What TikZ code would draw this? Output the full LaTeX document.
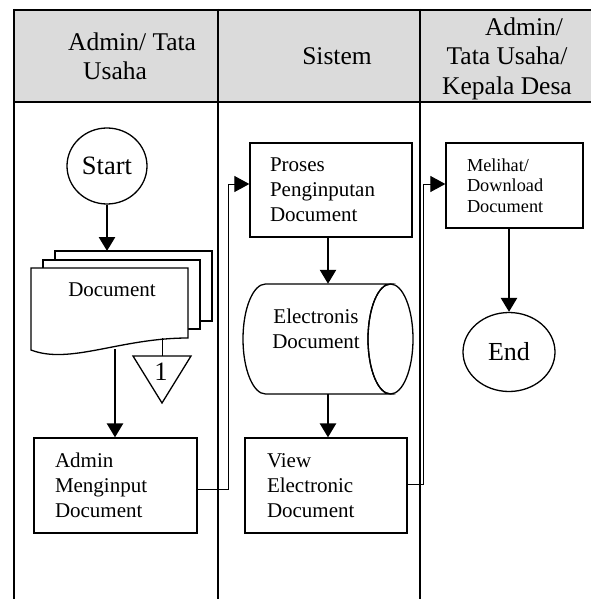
\documentclass[tikz,border=0pt]{standalone}
\usepackage{fontspec}
\setmainfont{Liberation Serif}
\usetikzlibrary{arrows.meta,shapes.geometric,calc}
\begin{document}
\begin{tikzpicture}[x=1pt,y=-1pt,
  box/.style={draw,line width=1.3pt,fill=white,rectangle,align=left,inner ysep=0pt},
  bodyfont/.style={font=\fontsize{21}{25}\selectfont},
  smallfont/.style={font=\fontsize{18.3}{20.5}\selectfont},
  hdr/.style={font=\fontsize{25.5}{29.5}\selectfont,inner sep=0pt},
  thickarrow/.style={line width=2.6pt,-{Triangle[length=14pt,width=16pt]}},
  conn/.style={line width=1pt,-{Triangle[length=15pt,width=16pt]}},
  lane/.style={line width=2pt},
  sheet/.style={draw,line width=1.3pt,fill=white},
]
\useasboundingbox (0,0) rectangle (591,599);
% header
\fill[gray!28] (14,10) rectangle (591,102);
\draw[lane] (14,10) -- (591,10);
\draw[lane] (14,102) -- (591,102);
\draw[lane] (14,9) -- (14,599);
\draw[lane] (217.5,9) -- (217.5,599);
\draw[lane] (419.5,9) -- (419.5,599);
\node[hdr,align=left,anchor=west] (h1) at (68,56.3) {Admin/ Tata\\\hspace*{15pt}Usaha};
\node[hdr,anchor=base] (h2) at (337,65) {Sistem};
\node[hdr,align=center] (h3) at (507,58.6) {\hspace*{34pt}Admin/\\Tata Usaha/\\Kepala Desa};

% start
\node[ellipse,draw,line width=1.3pt,minimum width=80,minimum height=76,inner sep=0pt,
      font=\fontsize{26.5}{30}\selectfont] (start) at (107,166) {Start};

% multi-document
\draw[sheet] (55,251) rectangle (212,321);
\draw[sheet] (43,260) rectangle (200,329);
\draw[sheet] (31,268) -- (188,268) -- (188,338)
   .. controls (120,338) and (70,365) .. (31,350) -- cycle;
\coordinate (doctop) at (107,251);
\coordinate (docbot) at (115,349);
\coordinate (docedge) at (162,338);
\node[bodyfont] (doc) at (112,289.8) {Document};

% off-page connector
\draw[line width=1.3pt] (133,356) -- (191,356) -- (162,403) -- cycle;
\coordinate (offtop) at (162,356);
\node[font=\fontsize{26.5}{30}\selectfont,inner sep=0pt] (one) at (161,372) {1};
\draw[line width=1pt] (docedge) -- (offtop);

% boxes
\node[box,bodyfont,text width=121,inner xsep=21,minimum height=95] (admin) at (115.5,485.5)
  {Admin\\Menginput\\Document};
\node[box,bodyfont,text width=122,inner xsep=20,minimum height=94] (proses) at (331,190)
  {Proses\\Penginputan\\Document};
% storage cylinder
\node[minimum width=170,minimum height=110,inner sep=0pt] (elec) at (328,339) {};
\draw[line width=1.3pt,fill=white] (265.5,284) -- (390.5,284)
   arc[start angle=270,end angle=90,x radius=22.5,y radius=55]
   -- (265.5,394) arc[start angle=90,end angle=270,x radius=22.5,y radius=55] -- cycle;
\draw[line width=1.3pt] (390.5,339) ellipse[x radius=22.5,y radius=55];
\node[bodyfont,align=center,inner sep=0pt] (electext) at (316,329) {Electronis\\Document};
\node[box,bodyfont,text width=118,inner xsep=22,minimum height=95] (view) at (326,485.5)
  {View\\Electronic\\Document};
\node[box,smallfont,text width=95,inner xsep=21,minimum height=85] (melihat) at (514.5,185.5)
  {Melihat/\\Download\\Document};
\node[ellipse,draw,line width=1.3pt,minimum width=92,minimum height=79,inner sep=0pt,
      font=\fontsize{26}{30}\selectfont] (end) at (509,352) {End};

% arrows
\draw[thickarrow] (start.south) -- (doctop);
\draw[thickarrow] (docbot) -- (docbot |- admin.north);
\draw[thickarrow] (elec.north |- proses.south) -- (elec.north);
\draw[thickarrow] (elec.south) -- (elec.south |- view.north);
\draw[thickarrow] (end.north |- melihat.south) -- (end.north);
\draw[conn] ([yshift=-3.5pt]admin.east) -- ++(31,0) |- ([yshift=6pt]proses.west);
\draw[conn] ([yshift=1.5pt]view.east) -- ++(16,0) |- ([yshift=1.5pt]melihat.west);
\end{tikzpicture}
\end{document}
